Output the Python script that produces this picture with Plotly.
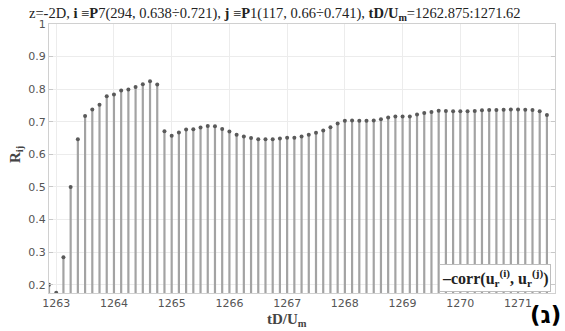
import plotly.graph_objects as go

t_start = 1262.875
dt = 0.125
r_values = [
    0.200, 0.175, 0.284, 0.500, 0.646, 0.718, 0.738, 0.752, 0.778, 0.784,
    0.796, 0.799, 0.807, 0.815, 0.824, 0.814, 0.671, 0.657, 0.667, 0.676,
    0.677, 0.682, 0.687, 0.686, 0.678, 0.670, 0.660, 0.655, 0.650, 0.646,
    0.646, 0.646, 0.649, 0.651, 0.651, 0.655, 0.660, 0.666, 0.673, 0.683,
    0.695, 0.703, 0.704, 0.703, 0.703, 0.704, 0.708, 0.713, 0.716, 0.716,
    0.716, 0.722, 0.727, 0.730, 0.734, 0.733, 0.732, 0.732, 0.732, 0.733,
    0.735, 0.736, 0.736, 0.737, 0.738, 0.738, 0.737, 0.736, 0.732, 0.721,
]
t_values = [t_start + i * dt for i in range(len(r_values))]

x_ticks = [1263, 1264, 1265, 1266, 1267, 1268, 1269, 1270, 1271]
y_ticks = [0.2, 0.3, 0.4, 0.5, 0.6, 0.7, 0.8, 0.9, 1.0]
y_ticktext = ["0.2", "0.3", "0.4", "0.5", "0.6", "0.7", "0.8", "0.9", "1"]

stem_x, stem_y = [], []
for t, r in zip(t_values, r_values):
    stem_x += [t, t, None]
    stem_y += [0, r, None]

fig = go.Figure()
fig.add_trace(go.Scatter(x=stem_x, y=stem_y, mode="lines",
                         line=dict(color="#a3a3a3", width=2.2),
                         hoverinfo="skip", showlegend=False))
fig.add_trace(go.Scatter(x=t_values, y=r_values, mode="markers",
                         marker=dict(color="#5a5a5a", size=4),
                         showlegend=False))

serif = "Liberation Serif, DejaVu Serif, serif"
sans = "DejaVu Sans, sans-serif"

fig.update_layout(
    width=565, height=331,
    margin=dict(l=49, r=10, t=24, b=38),
    paper_bgcolor="white", plot_bgcolor="white",
    title=dict(
        text="z=-2D, <b>i</b> ≡<b>P</b>7(294, 0.638÷0.721), <b>j</b> ≡<b>P</b>1(117, 0.66÷0.741), <b>tD/U<sub>m</sub></b>=1262.875:1271.62",
        font=dict(family=serif, size=14.5, color="#222"),
        xref="container", yref="container", x=29 / 565, xanchor="left",
        y=1 - 13 / 331, yanchor="middle", automargin=False),
    xaxis=dict(range=[1262.875, 1271.64], tickvals=x_ticks,
               tickfont=dict(family=sans, size=11, color="#555"),
               showgrid=True, gridcolor="#ececec", gridwidth=1,
               showline=True, linecolor="#d0d0d0", mirror=True,
               zeroline=False, ticks="", automargin=False),
    yaxis=dict(range=[0.1745, 1.0], tickvals=y_ticks, ticktext=y_ticktext,
               tickfont=dict(family=sans, size=11, color="#555"),
               showgrid=True, gridcolor="#ececec", gridwidth=1,
               showline=True, linecolor="#d0d0d0", mirror="ticks",
               ticks="inside", ticklen=4, tickcolor="#c8c8c8",
               zeroline=False, automargin=False),
)

# axis titles
fig.add_annotation(
    xref="paper", yref="paper", x=0.47, y=-0.1,
    xanchor="center", yanchor="middle", showarrow=False,
    text="<b>tD/U<sub>m</sub></b>",
    font=dict(family=serif, size=15, color="#444"),
)
fig.add_annotation(
    xref="paper", yref="paper", x=-0.065, y=0.513,
    xanchor="center", yanchor="middle", showarrow=False, textangle=-90,
    text="<b>R<sub>ij</sub></b>",
    font=dict(family=serif, size=15, color="#444"),
)

# legend box
fig.add_annotation(
    xref="paper", yref="paper", x=0.992, y=0.004,
    xanchor="right", yanchor="bottom", showarrow=False,
    text="<b>–corr(u<sub>r</sub><sup>(i)</sup>, u<sub>r</sub><sup>(j)</sup>)</b>",
    font=dict(family=serif, size=16, color="#222"),
    bgcolor="white", bordercolor="#bdbdbd", borderwidth=1, borderpad=2,
)

fig.add_annotation(
    xref="paper", yref="paper", x=1.016, y=-0.082,
    xanchor="right", yanchor="middle", showarrow=False,
    text="<b>(ג)</b>",
    font=dict(family="DejaVu Sans, sans-serif", size=23, color="black"),
)

fig.write_html("out.html", config={"displayModeBar": False},
               post_script="document.body.style.margin='0';document.body.style.padding='0';")
